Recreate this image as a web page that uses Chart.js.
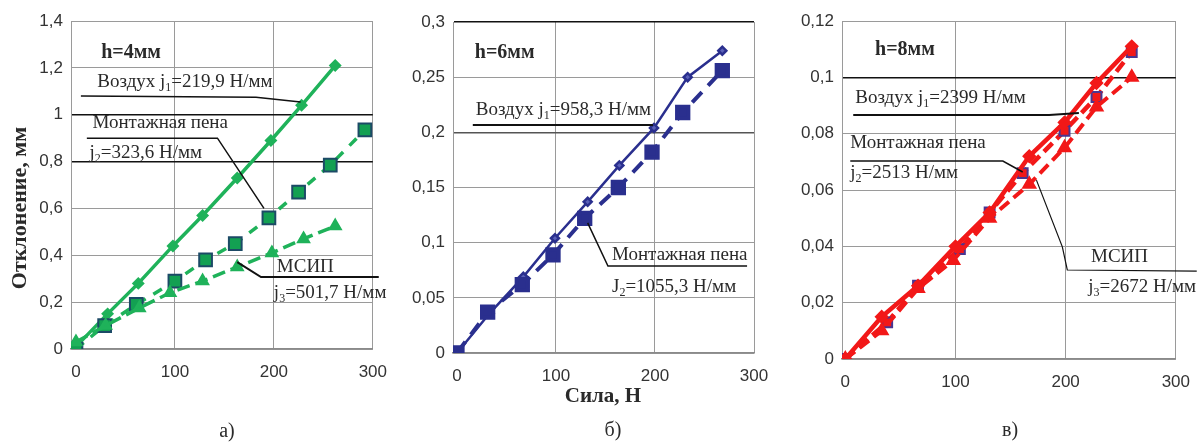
<!DOCTYPE html>
<html>
<head>
<meta charset="utf-8">
<script src="https://cdn.jsdelivr.net/npm/chart.js@4.4.1/dist/chart.umd.min.js"></script>
<style>
  html, body { margin: 0; padding: 0; background: #fff; }
  #wrap { position: relative; width: 1203px; height: 444px; overflow: hidden; }
  #wrap canvas { position: absolute; top: 0; }
</style>
</head>
<body>
<div id="wrap">
  <canvas id="chA" width="400" height="444" style="left:0"></canvas>
  <canvas id="chB" width="390" height="444" style="left:400px"></canvas>
  <canvas id="chC" width="413" height="444" style="left:790px"></canvas>
</div>
<script>
// а) h=4мм
const aAirX  = [0, 32, 63, 98, 128, 163, 197, 228, 262];
const aAirY  = [0.01, 0.15, 0.28, 0.44, 0.57, 0.73, 0.89, 1.04, 1.21];
const aFoamX = [0, 29, 61, 100, 131, 161, 195, 225, 257, 292];
const aFoamY = [0, 0.10, 0.19, 0.29, 0.38, 0.45, 0.56, 0.67, 0.785, 0.935];
const aMsipX = [0, 30, 64, 95, 128, 163, 198, 230, 262];
const aMsipY = [0.03, 0.10, 0.175, 0.24, 0.29, 0.35, 0.41, 0.47, 0.525];
const aYTicks  = [0, 0.2, 0.4, 0.6, 0.8, 1, 1.2, 1.4];
const aYLabels = ['0', '0,2', '0,4', '0,6', '0,8', '1', '1,2', '1,4'];

// б) h=6мм
const bAirX  = [0, 33, 67, 99, 132, 164, 199, 233, 268];
const bAirY  = [0, 0.036, 0.069, 0.104, 0.137, 0.170, 0.204, 0.250, 0.274];
const bFoamX = [0, 31, 66, 97, 129, 163, 197, 228, 268];
const bFoamY = [0, 0.037, 0.062, 0.089, 0.122, 0.150, 0.182, 0.218, 0.256];
const bYTicks  = [0, 0.05, 0.1, 0.15, 0.2, 0.25, 0.3];
const bYLabels = ['0', '0,05', '0,1', '0,15', '0,2', '0,25', '0,3'];

// в) h=8мм
const cAirX  = [0, 33, 66, 100, 131, 167, 199, 228, 260];
const cAirY  = [0, 0.015, 0.026, 0.040, 0.052, 0.072, 0.084, 0.098, 0.111];
const cFoamX = [0, 38, 66, 104, 131, 161, 199, 228, 260];
const cFoamY = [0, 0.013, 0.026, 0.039, 0.052, 0.066, 0.081, 0.093, 0.109];
const cMsipX = [0, 33, 66, 98, 131, 167, 199, 228, 260];
const cMsipY = [0, 0.010, 0.025, 0.035, 0.050, 0.062, 0.075, 0.0895, 0.100];
const cYTicks  = [0, 0.02, 0.04, 0.06, 0.08, 0.1, 0.12];
const cYLabels = ['0', '0,02', '0,04', '0,06', '0,08', '0,1', '0,12'];

const xTicks = [0, 100, 200, 300];

const SERIF = '"Liberation Serif", "DejaVu Serif", serif';
const SANS  = '"Liberation Sans", Arial, sans-serif';

const pts = (xs, ys) => xs.map((x, i) => ({ x, y: ys[i] }));

// text with "_" marking a one-character subscript
function drawRich(ctx, text, x, y, size, bold) {
  const w = bold ? 'bold ' : '';
  const parts = [];
  for (let i = 0; i < text.length; i++) {
    if (text[i] === '_') { parts.push([text[i + 1], true]); i++; }
    else if (parts.length && !parts[parts.length - 1][1]) parts[parts.length - 1][0] += text[i];
    else parts.push([text[i], false]);
  }
  ctx.textBaseline = 'middle';
  ctx.textAlign = 'left';
  ctx.fillStyle = '#2a2a2a';
  let cx = x;
  parts.forEach(([s, sub]) => {
    ctx.font = w + (sub ? Math.round(size * 0.62) : size) + 'px ' + SERIF;
    ctx.fillText(s, cx, sub ? y + size * 0.3 : y);
    cx += ctx.measureText(s).width;
  });
}

const notesPlugin = {
  id: 'notes',
  afterDraw(chart, args, opts) {
    const { ctx } = chart;
    const sx = chart.scales.x, sy = chart.scales.y;
    ctx.save();
    (opts.lines || []).forEach(l => {
      ctx.beginPath();
      ctx.strokeStyle = '#111';
      ctx.lineWidth = l.width || 1.5;
      l.pts.forEach(([vx, vy], i) => {
        const X = sx.getPixelForValue(vx), Y = sy.getPixelForValue(vy);
        if (i) ctx.lineTo(X, Y); else ctx.moveTo(X, Y);
      });
      ctx.stroke();
    });
    (opts.texts || []).forEach(t =>
      drawRich(ctx, t.text, sx.getPixelForValue(t.x), sy.getPixelForValue(t.y), t.size || 19, t.bold));
    // axis titles and panel captions, placed on the canvas
    (opts.captions || []).forEach(c => {
      ctx.save();
      ctx.translate(c.x, c.y);
      if (c.rotate) ctx.rotate(-Math.PI / 2);
      ctx.font = (c.bold ? 'bold ' : '') + c.size + 'px ' + SERIF;
      ctx.fillStyle = '#2a2a2a';
      ctx.textAlign = 'center';
      ctx.textBaseline = 'middle';
      ctx.fillText(c.text, 0, 0);
      ctx.restore();
    });
    ctx.restore();
  }
};

function makePanel(id, cfg) {
  const { datasets, yTicks, yLabels, yMax, xMin, box, gridDark, notes } = cfg;
  return new Chart(document.getElementById(id), {
    type: 'scatter',
    data: { datasets },
    plugins: [notesPlugin],
    options: {
      responsive: false,
      animation: false,
      layout: { padding: { top: box.top, right: box.right, left: 0, bottom: 0 } },
      plugins: { legend: { display: false }, tooltip: { enabled: false }, notes },
      scales: {
        x: {
          type: 'linear', min: xMin, max: 300,
          afterBuildTicks: s => { s.ticks = xTicks.map(v => ({ value: v })); },
          afterFit: s => { s.height = box.xH; },
          ticks: { font: { family: SANS, size: 17 }, color: '#333', padding: 13, maxRotation: 0 },
          grid: { drawTicks: false, color: c => c.tick && c.tick.value === 0 ? 'rgba(0,0,0,0)' : '#9a9a9a' },
          border: { color: '#8a8a8a', width: 1.5 }
        },
        y: {
          type: 'linear', min: 0, max: yMax,
          afterBuildTicks: s => { s.ticks = yTicks.map(v => ({ value: v })); },
          afterFit: s => { s.width = box.yW; },
          ticks: {
            font: { family: SANS, size: 17 }, color: '#333', padding: 8,
            callback: v => yLabels[yTicks.indexOf(v)]
          },
          grid: {
            drawTicks: false,
            color: c => (c.tick && gridDark[c.tick.value]) || '#9a9a9a',
            lineWidth: c => (c.tick && gridDark[c.tick.value]) ? 1.5 : 1
          },
          border: { color: '#9a9a9a', width: 1 }
        }
      }
    }
  });
}

// а)
const GREEN = '#1fb25a';
makePanel('chA', {
  yTicks: aYTicks, yLabels: aYLabels, yMax: 1.4, xMin: -5,
  box: { top: 21, right: 19, yW: 71, xH: 95 },
  gridDark: { 1: '#111', 0.8: '#111' },
  datasets: [
    { data: pts(aMsipX, aMsipY), showLine: true, borderColor: GREEN, borderWidth: 3.5, borderDash: [13, 6],
      pointStyle: 'triangle', pointRadius: 5, pointBackgroundColor: GREEN, pointBorderColor: GREEN },
    { data: pts(aFoamX, aFoamY), showLine: true, borderColor: GREEN, borderWidth: 3.5, borderDash: [10, 9],
      pointStyle: 'rect', pointRadius: 9, pointBackgroundColor: '#13a052', pointBorderColor: '#1c4a66', pointBorderWidth: 2 },
    { data: pts(aAirX, aAirY), showLine: true, borderColor: GREEN, borderWidth: 3.5,
      pointStyle: 'rectRot', pointRadius: 4, pointBackgroundColor: GREEN, pointBorderColor: GREEN }
  ],
  notes: {
    lines: [
      { pts: [[5, 1.08], [182, 1.075], [227, 1.054]] },
      { pts: [[11, 0.90], [143, 0.90], [190, 0.60]] },
      { pts: [[163, 0.371], [187, 0.307], [306, 0.307]], width: 2 }
    ],
    texts: [
      { text: 'h=4мм', x: 25.5, y: 1.263, bold: true, size: 20 },
      { text: 'Воздух j_1=219,9 Н/мм', x: 21.6, y: 1.14 },
      { text: 'Монтажная пена', x: 16.7, y: 0.965 },
      { text: 'j_2=323,6 Н/мм', x: 13.7, y: 0.837 },
      { text: 'МСИП', x: 203, y: 0.35 },
      { text: 'j_3=501,7 Н/мм', x: 200, y: 0.239 }
    ],
    captions: [
      { text: 'Отклонение, мм', x: 20, y: 208, size: 22, bold: true, rotate: true },
      { text: 'а)', x: 227, y: 432, size: 20 }
    ]
  }
});

// б)
const NAVY = '#2a2f8e';
makePanel('chB', {
  yTicks: bYTicks, yLabels: bYLabels, yMax: 0.3, xMin: -4,
  box: { top: 22, right: 36, yW: 53, xH: 91 },
  gridDark: { 0.3: '#111', 0.2: '#555' },
  datasets: [
    { data: pts(bFoamX, bFoamY), showLine: true, borderColor: NAVY, borderWidth: 4, borderDash: [14, 9],
      pointStyle: 'rect', pointRadius: 8, pointBackgroundColor: NAVY, pointBorderColor: NAVY },
    { data: pts(bAirX, bAirY), showLine: true, borderColor: NAVY, borderWidth: 2.5,
      pointStyle: 'rectRot', pointRadius: 4, pointBackgroundColor: '#5a60b8', pointBorderColor: NAVY }
  ],
  notes: {
    lines: [
      { pts: [[16, 0.2066], [198, 0.2066]], width: 2 },
      { pts: [[132, 0.118], [152.5, 0.0788], [293, 0.0788]] }
    ],
    texts: [
      { text: 'h=6мм', x: 18, y: 0.272, bold: true, size: 20 },
      { text: 'Воздух j_1=958,3 Н/мм', x: 19, y: 0.220 },
      { text: 'Монтажная пена', x: 156.6, y: 0.0888 },
      { text: 'J_2=1055,3 Н/мм', x: 156.6, y: 0.0598 }
    ],
    captions: [
      { text: 'Сила, Н', x: 203, y: 397, size: 21, bold: true },
      { text: 'б)', x: 213, y: 431, size: 20 }
    ]
  }
});

// в)
const RED = '#f21818';
makePanel('chC', {
  yTicks: cYTicks, yLabels: cYLabels, yMax: 0.12, xMin: -3,
  box: { top: 21, right: 26, yW: 52, xH: 85 },
  gridDark: { 0.1: '#111' },
  datasets: [
    { data: pts(cMsipX, cMsipY), showLine: true, borderColor: RED, borderWidth: 4, borderDash: [12, 6],
      pointStyle: 'triangle', pointRadius: 5, pointBackgroundColor: RED, pointBorderColor: RED },
    { data: pts(cAirX, cAirY), showLine: true, borderColor: RED, borderWidth: 4.5,
      pointStyle: 'rectRot', pointRadius: 4, pointBackgroundColor: RED, pointBorderColor: RED },
    { data: pts(cFoamX, cFoamY), showLine: true, borderColor: RED, borderWidth: 4.5, borderDash: [12, 6],
      pointStyle: 'rect', pointRadius: 7, pointBackgroundColor: RED, pointBorderColor: '#4a3590', pointBorderWidth: 2 }
  ],
  notes: {
    lines: [
      { pts: [[7.2, 0.0866], [185, 0.0866], [212, 0.0873]], width: 2 },
      { pts: [[4.5, 0.0703], [143, 0.0703], [161, 0.0664]] },
      { pts: [[173.5, 0.0635], [197, 0.0398], [201.5, 0.0316], [319, 0.0312]], width: 1.2 }
    ],
    texts: [
      { text: 'h=8мм', x: 27, y: 0.1097, bold: true, size: 20 },
      { text: 'Воздух j_1=2399 Н/мм', x: 9, y: 0.0927 },
      { text: 'Монтажная пена', x: 4.5, y: 0.0767 },
      { text: 'j_2=2513 Н/мм', x: 4.5, y: 0.066 },
      { text: 'МСИП', x: 223, y: 0.0362 },
      { text: 'j_3=2672 Н/мм', x: 220.5, y: 0.0256 }
    ],
    captions: [
      { text: 'в)', x: 220, y: 431, size: 20 }
    ]
  }
});
</script>
</body>
</html>
